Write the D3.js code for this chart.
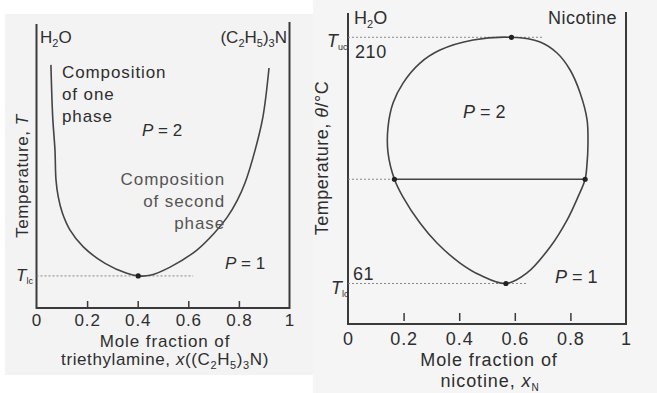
<!DOCTYPE html>
<html><head><meta charset="utf-8">
<script src="https://cdn.jsdelivr.net/npm/d3@7"></script>
<style>
body{margin:0;background:#fff}
svg{display:block}
text{font-family:"Liberation Sans",Arial,sans-serif;fill:#2e2e2e}
</style>
</head><body>
<svg id="c" width="657" height="393"></svg>
<script>
// ---------- DATA ----------
const xTicks = [0, 0.2, 0.4, 0.6, 0.8, 1];
const xTickLabels = ["0", "0.2", "0.4", "0.6", "0.8", "1"];

// Left: water / triethylamine (temperature in arbitrary units)
const teaX = [0.057,0.064,0.073,0.077,0.086,0.102,0.132,0.185,0.271,0.357,0.402,0.449,0.528,0.634,0.703,0.754,0.794,0.824,0.864,0.895,0.919];
const teaT = [85.6,67.3,55.6,45.1,39.1,33.5,27.5,21.5,15.7,12.2,11.3,11.5,14.4,20.4,26.4,32.0,38.0,44.0,55.6,67.3,84.5];
const teaLcX = 0.402, teaLcT = 11.3, teaLcLineEnd = 0.619;

// Right: water / nicotine (°C), closed loop
const nicX = [0.588,0.691,0.752,0.799,0.835,0.860,0.863,0.860,0.853,0.827,0.788,0.727,0.644,0.568,0.475,0.403,0.320,0.259,0.198,0.167,0.144,0.144,0.162,0.198,0.259,0.331,0.450];
const nicT = [210,207.2,200.5,190.2,176.3,160.0,143.6,134.0,124.1,113.3,99.4,83.1,67.4,61,66.1,73.4,85.5,97.6,113.3,124.1,140.0,155.7,170.2,182.3,194.4,202.3,208.4];
const nicUc = {x: 0.588, t: 210, lineEnd: 0.701};
const nicLc = {x: 0.568, t: 61, lineEnd: 0.647};
const tieT = 124.1, tieX = [0.167, 0.853];
const nicYLabels = [210, 61];

// ---------- DRAW ----------
const svg = d3.select("#c");
const ink = "#3a3a3a";

// backgrounds
svg.append("rect").attr("x",5).attr("y",14).attr("width",308).attr("height",361).attr("fill","#f3f3f3");
svg.append("rect").attr("x",313).attr("y",0).attr("width",344).attr("height",393).attr("fill","#f5f5f5");

function sub(t, s, size, shift){
  t.append("tspan").attr("font-size",size).attr("dy",shift).text(s);
}

// ===== LEFT PANEL =====
const xL = d3.scaleLinear().domain([0,1]).range([36.5,289.5]);
const yL = d3.scaleLinear().domain([0,100]).range([308,24]);
const gL = svg.append("g");

const axL = d3.axisBottom(xL).tickValues(xTicks).tickFormat((d,i)=>xTickLabels[i])
  .tickSizeInner(-7).tickSizeOuter(0).tickPadding(6);
const gaL = gL.append("g").attr("transform",`translate(0,${yL(0)})`).call(axL);
gaL.select(".domain").remove();
gaL.selectAll(".tick line").attr("stroke",ink).attr("stroke-width",1.5)
  .filter(d=>d===0||d===1).remove();
gaL.selectAll(".tick text").attr("font-size",17).attr("letter-spacing",0.9)
  .attr("font-family","Liberation Sans,Arial,sans-serif").attr("fill","#2e2e2e");

// frame
gL.append("path").attr("fill","none").attr("stroke",ink).attr("stroke-width",2)
  .attr("d",`M${xL(0)},${yL(100)}V${yL(0)}H${xL(1)}V${yL(100)-2}`);

// dotted T_lc
gL.append("line").attr("x1",xL(0)).attr("x2",xL(teaLcLineEnd)).attr("y1",yL(teaLcT)).attr("y2",yL(teaLcT))
  .attr("stroke","#888").attr("stroke-width",1).attr("stroke-dasharray","2,2");

const lineL = d3.line().x((d,i)=>xL(teaX[i])).y((d,i)=>yL(teaT[i])).curve(d3.curveCatmullRom);
gL.append("path").datum(teaX).attr("d",lineL).attr("fill","none").attr("stroke","#444").attr("stroke-width",1.6);
gL.append("circle").attr("cx",xL(teaLcX)).attr("cy",yL(teaLcT)).attr("r",2.6).attr("fill","#222");

// texts left
const fsL = 17;
let t;
t = gL.append("text").attr("x",40).attr("y",43).attr("font-size",fsL).text("H");
sub(t,"2",11,4); t.append("tspan").attr("dy",-4).text("O");

t = gL.append("text").attr("x",287).attr("y",43).attr("font-size",fsL).attr("text-anchor","end").text("(C");
sub(t,"2",11,4); t.append("tspan").attr("dy",-4).text("H"); sub(t,"5",11,4);
t.append("tspan").attr("dy",-4).text(")"); sub(t,"3",11,4); t.append("tspan").attr("dy",-4).text("N");

t = gL.append("text").attr("transform","translate(28,176) rotate(-90)").attr("text-anchor","middle")
  .attr("font-size",fsL).attr("letter-spacing",0.6).text("Temperature, ");
t.append("tspan").attr("font-style","italic").text("T");

t = gL.append("text").attr("x",16).attr("y",yL(teaLcT)+5).attr("font-size",fsL);
t.append("tspan").attr("font-style","italic").text("T");
sub(t,"lc",9,3);

[["Composition",78],["of one",100],["phase",122]].forEach(([s,y])=>
  gL.append("text").attr("x",62).attr("y",y).attr("font-size",fsL).attr("letter-spacing",0.9).text(s));
[["Composition",185],["of second",207],["phase",229]].forEach(([s,y])=>
  gL.append("text").attr("x",225).attr("y",y).attr("text-anchor","end").attr("font-size",fsL)
    .attr("letter-spacing",0.9).style("fill","#555").text(s));

function pEq(g,x,y,n,fs){
  const tt = g.append("text").attr("x",x).attr("y",y).attr("font-size",fs);
  tt.append("tspan").attr("font-style","italic").text("P");
  tt.append("tspan").text(" = "+n);
}
pEq(gL,142,136,2,fsL);
pEq(gL,225,269,1,fsL);

gL.append("text").attr("x",165).attr("y",347).attr("text-anchor","middle").attr("font-size",fsL)
  .attr("letter-spacing",0.9).text("Mole fraction of");
t = gL.append("text").attr("x",165).attr("y",365).attr("text-anchor","middle").attr("font-size",fsL)
  .attr("letter-spacing",0.6).text("triethylamine, ");
t.append("tspan").attr("font-style","italic").text("x");
t.append("tspan").text("((C"); sub(t,"2",11,4); t.append("tspan").attr("dy",-4).text("H");
sub(t,"5",11,4); t.append("tspan").attr("dy",-4).text(")"); sub(t,"3",11,4);
t.append("tspan").attr("dy",-4).text("N)");

// ===== RIGHT PANEL =====
const xR = d3.scaleLinear().domain([0,1]).range([348,626]);
const yR = d3.scaleLinear().domain([36.5,224.7]).range([324,13]);
const gR = svg.append("g");
const fsR = 18;

const axR = d3.axisBottom(xR).tickValues(xTicks).tickFormat((d,i)=>xTickLabels[i])
  .tickSizeInner(0).tickSizeOuter(0).tickPadding(8);
const gaR = gR.append("g").attr("transform",`translate(0,${yR(36.5)})`).call(axR);
gaR.select(".domain").remove();
gaR.selectAll(".tick line").attr("y1",-3).attr("y2",-11).attr("stroke",ink).attr("stroke-width",1.5)
  .filter(d=>d===0||d===1).remove();
gaR.selectAll(".tick text").attr("font-size",fsR).attr("letter-spacing",0.9)
  .attr("font-family","Liberation Sans,Arial,sans-serif").attr("fill","#2e2e2e");

gR.append("path").attr("fill","none").attr("stroke",ink).attr("stroke-width",2)
  .attr("d",`M${xR(0)},${yR(224.7)}V${yR(36.5)}H${xR(1)}V${yR(224.7)-1}`);

// dotted lines
[[nicUc.t, nicUc.lineEnd],[nicLc.t, nicLc.lineEnd],[tieT, tieX[0]]].forEach(([tt,xe])=>
  gR.append("line").attr("x1",xR(0)).attr("x2",xR(xe)).attr("y1",yR(tt)).attr("y2",yR(tt))
    .attr("stroke","#888").attr("stroke-width",1).attr("stroke-dasharray","2,2"));

const lineR = d3.line().x((d,i)=>xR(nicX[i])).y((d,i)=>yR(nicT[i])).curve(d3.curveCatmullRomClosed);
gR.append("path").datum(nicX).attr("d",lineR).attr("fill","none").attr("stroke","#444").attr("stroke-width",1.6);
gR.append("line").attr("x1",xR(tieX[0])).attr("x2",xR(tieX[1])).attr("y1",yR(tieT)).attr("y2",yR(tieT))
  .attr("stroke","#444").attr("stroke-width",1.6);
[[nicUc.x,nicUc.t],[nicLc.x,nicLc.t],[tieX[0],tieT],[tieX[1],tieT]].forEach(([x,y])=>
  gR.append("circle").attr("cx",xR(x)).attr("cy",yR(y)).attr("r",2.6).attr("fill","#222"));

t = gR.append("text").attr("x",354).attr("y",24).attr("font-size",fsR).text("H");
sub(t,"2",11,4); t.append("tspan").attr("dy",-4).text("O");
gR.append("text").attr("x",617).attr("y",24).attr("text-anchor","end").attr("font-size",fsR)
  .attr("letter-spacing",0.5).text("Nicotine");

t = gR.append("text").attr("x",327).attr("y",yR(nicUc.t)+10).attr("font-size",fsR);
t.append("tspan").attr("font-style","italic").text("T"); sub(t,"uc",9,3);
t = gR.append("text").attr("x",331).attr("y",yR(nicLc.t)+10).attr("font-size",fsR);
t.append("tspan").attr("font-style","italic").text("T"); sub(t,"lc",9,3);

gR.append("text").attr("x",355).attr("y",yR(nicYLabels[0])+21).attr("font-size",fsR).attr("letter-spacing",0.6).text(String(nicYLabels[0]));
gR.append("text").attr("x",353).attr("y",yR(nicYLabels[1])-4).attr("font-size",fsR).attr("letter-spacing",0.6).text(String(nicYLabels[1]));

pEq(gR,463,118,2,fsR);
pEq(gR,555,283,1,fsR);

t = gR.append("text").attr("transform","translate(328,158) rotate(-90)").attr("text-anchor","middle")
  .attr("font-size",fsR).attr("letter-spacing",0.5).text("Temperature, ");
t.append("tspan").attr("font-style","italic").text("θ");
t.append("tspan").text("/°C");

gR.append("text").attr("x",489).attr("y",366).attr("text-anchor","middle").attr("font-size",fsR)
  .attr("letter-spacing",0.9).text("Mole fraction of");
t = gR.append("text").attr("x",490).attr("y",387).attr("text-anchor","middle").attr("font-size",fsR)
  .attr("letter-spacing",0.9).text("nicotine, ");
t.append("tspan").attr("font-style","italic").text("x");
sub(t,"N",10,4);
</script>
</body></html>
